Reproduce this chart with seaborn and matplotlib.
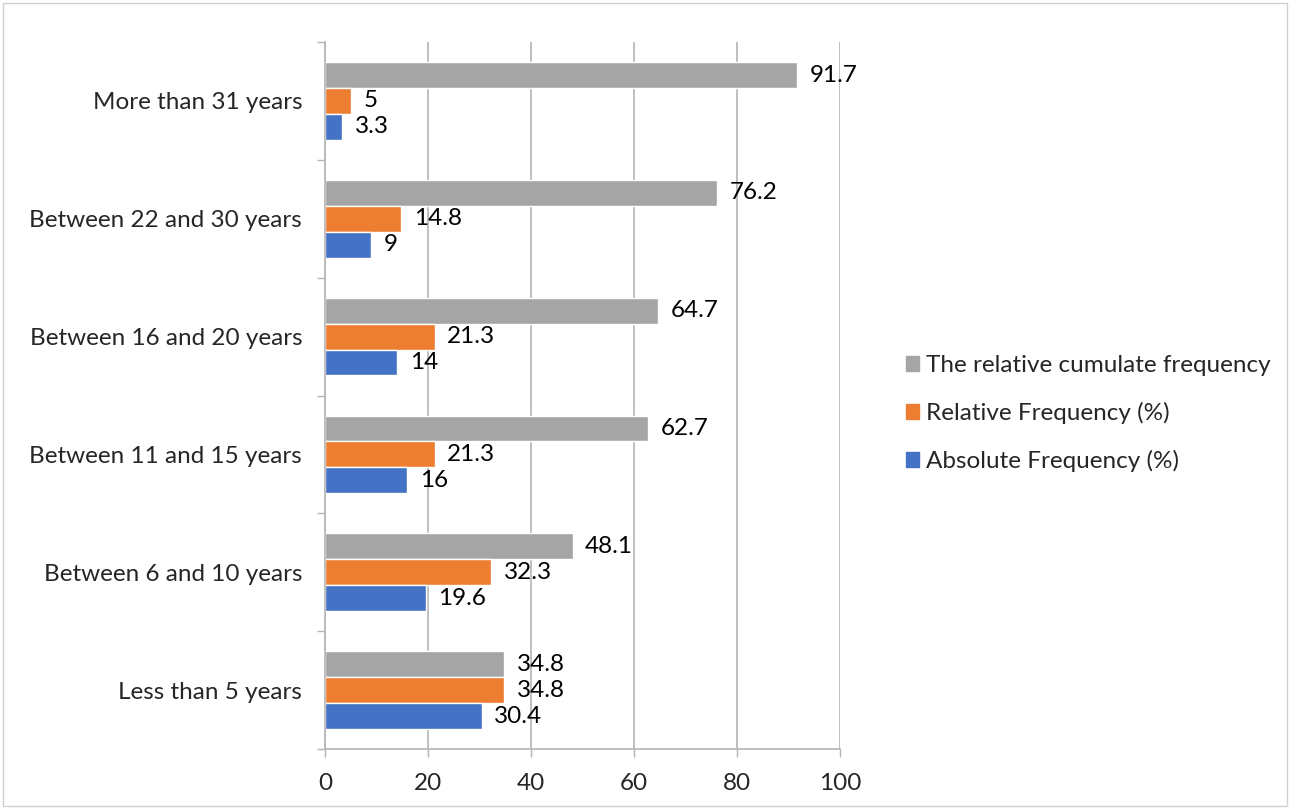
import pandas as pd
import matplotlib
matplotlib.use("Agg")
import matplotlib.pyplot as plt
import matplotlib.patches as mpatches
from matplotlib.ticker import FixedLocator
import seaborn as sns

categories = ["More than 31 years", "Between 22 and 30 years", "Between 16 and 20 years",
              "Between 11 and 15 years", "Between 6 and 10 years", "Less than 5 years"]
cumulative = [91.7, 76.2, 64.7, 62.7, 48.1, 34.8]
relative = [5, 14.8, 21.3, 21.3, 32.3, 34.8]
absolute = [3.3, 9, 14, 16, 19.6, 30.4]
series = ["The relative cumulate frequency", "Relative Frequency (%)", "Absolute Frequency (%)"]
colors = ["#A5A5A5", "#ED7D31", "#4472C4"]

rows = []
for name, vals in zip(series, [cumulative, relative, absolute]):
    for c, v in zip(categories, vals):
        rows.append({"category": c, "series": name, "value": v})
df = pd.DataFrame(rows)

sns.set_style("white")
plt.rcParams['font.family'] = ['Lato', 'DejaVu Sans']
fs = 17.5

fig = plt.figure(figsize=(12.9, 8.08), dpi=100)
ax = fig.add_axes([0.252, 0.073, 0.399, 0.875])

sns.barplot(data=df, x="value", y="category", hue="series", order=categories,
            hue_order=series, palette=colors, orient="h", width=0.66,
            saturation=1, ax=ax, legend=False)

for cont in ax.containers:
    ax.bar_label(cont, fmt="%g", padding=9, fontsize=fs, color="#000000")

ax.set_xlim(0, 100)
ax.set_ylim(5.5, -0.5)
ax.set_xticks([0, 20, 40, 60, 80, 100])
ax.xaxis.grid(True, color="#B4B4B4", linewidth=1.2)
ax.set_axisbelow(True)
ax.set_xlabel("")
ax.set_ylabel("")
ax.tick_params(axis="x", labelsize=fs, length=6, width=1, color="#B4B4B4", pad=11, direction="out", bottom=True)
ax.tick_params(axis="y", which="major", labelsize=fs, length=0, pad=16.5)
ax.yaxis.set_minor_locator(FixedLocator([i - 0.5 for i in range(7)]))
ax.tick_params(axis="y", which="minor", length=6, width=1, color="#B4B4B4", left=True)
for s in ["top", "right"]:
    ax.spines[s].set_visible(False)
for s in ["left", "bottom"]:
    ax.spines[s].set_color("#B4B4B4")
    ax.spines[s].set_linewidth(1.2)

handles = [mpatches.Patch(color=c, label=n) for c, n in zip(colors, series)]
fig.legend(handles=handles, loc="center left", bbox_to_anchor=(0.685, 0.488),
           frameon=False, fontsize=fs, handlelength=0.55, handleheight=0.55,
           handletextpad=0.3, labelspacing=1.06)

fig.patches.append(mpatches.Rectangle((0.002, 0.002), 0.996, 0.994, transform=fig.transFigure,
                                      fill=False, edgecolor="#D0D0D0", linewidth=1))

fig.savefig("out.png", dpi=100)
